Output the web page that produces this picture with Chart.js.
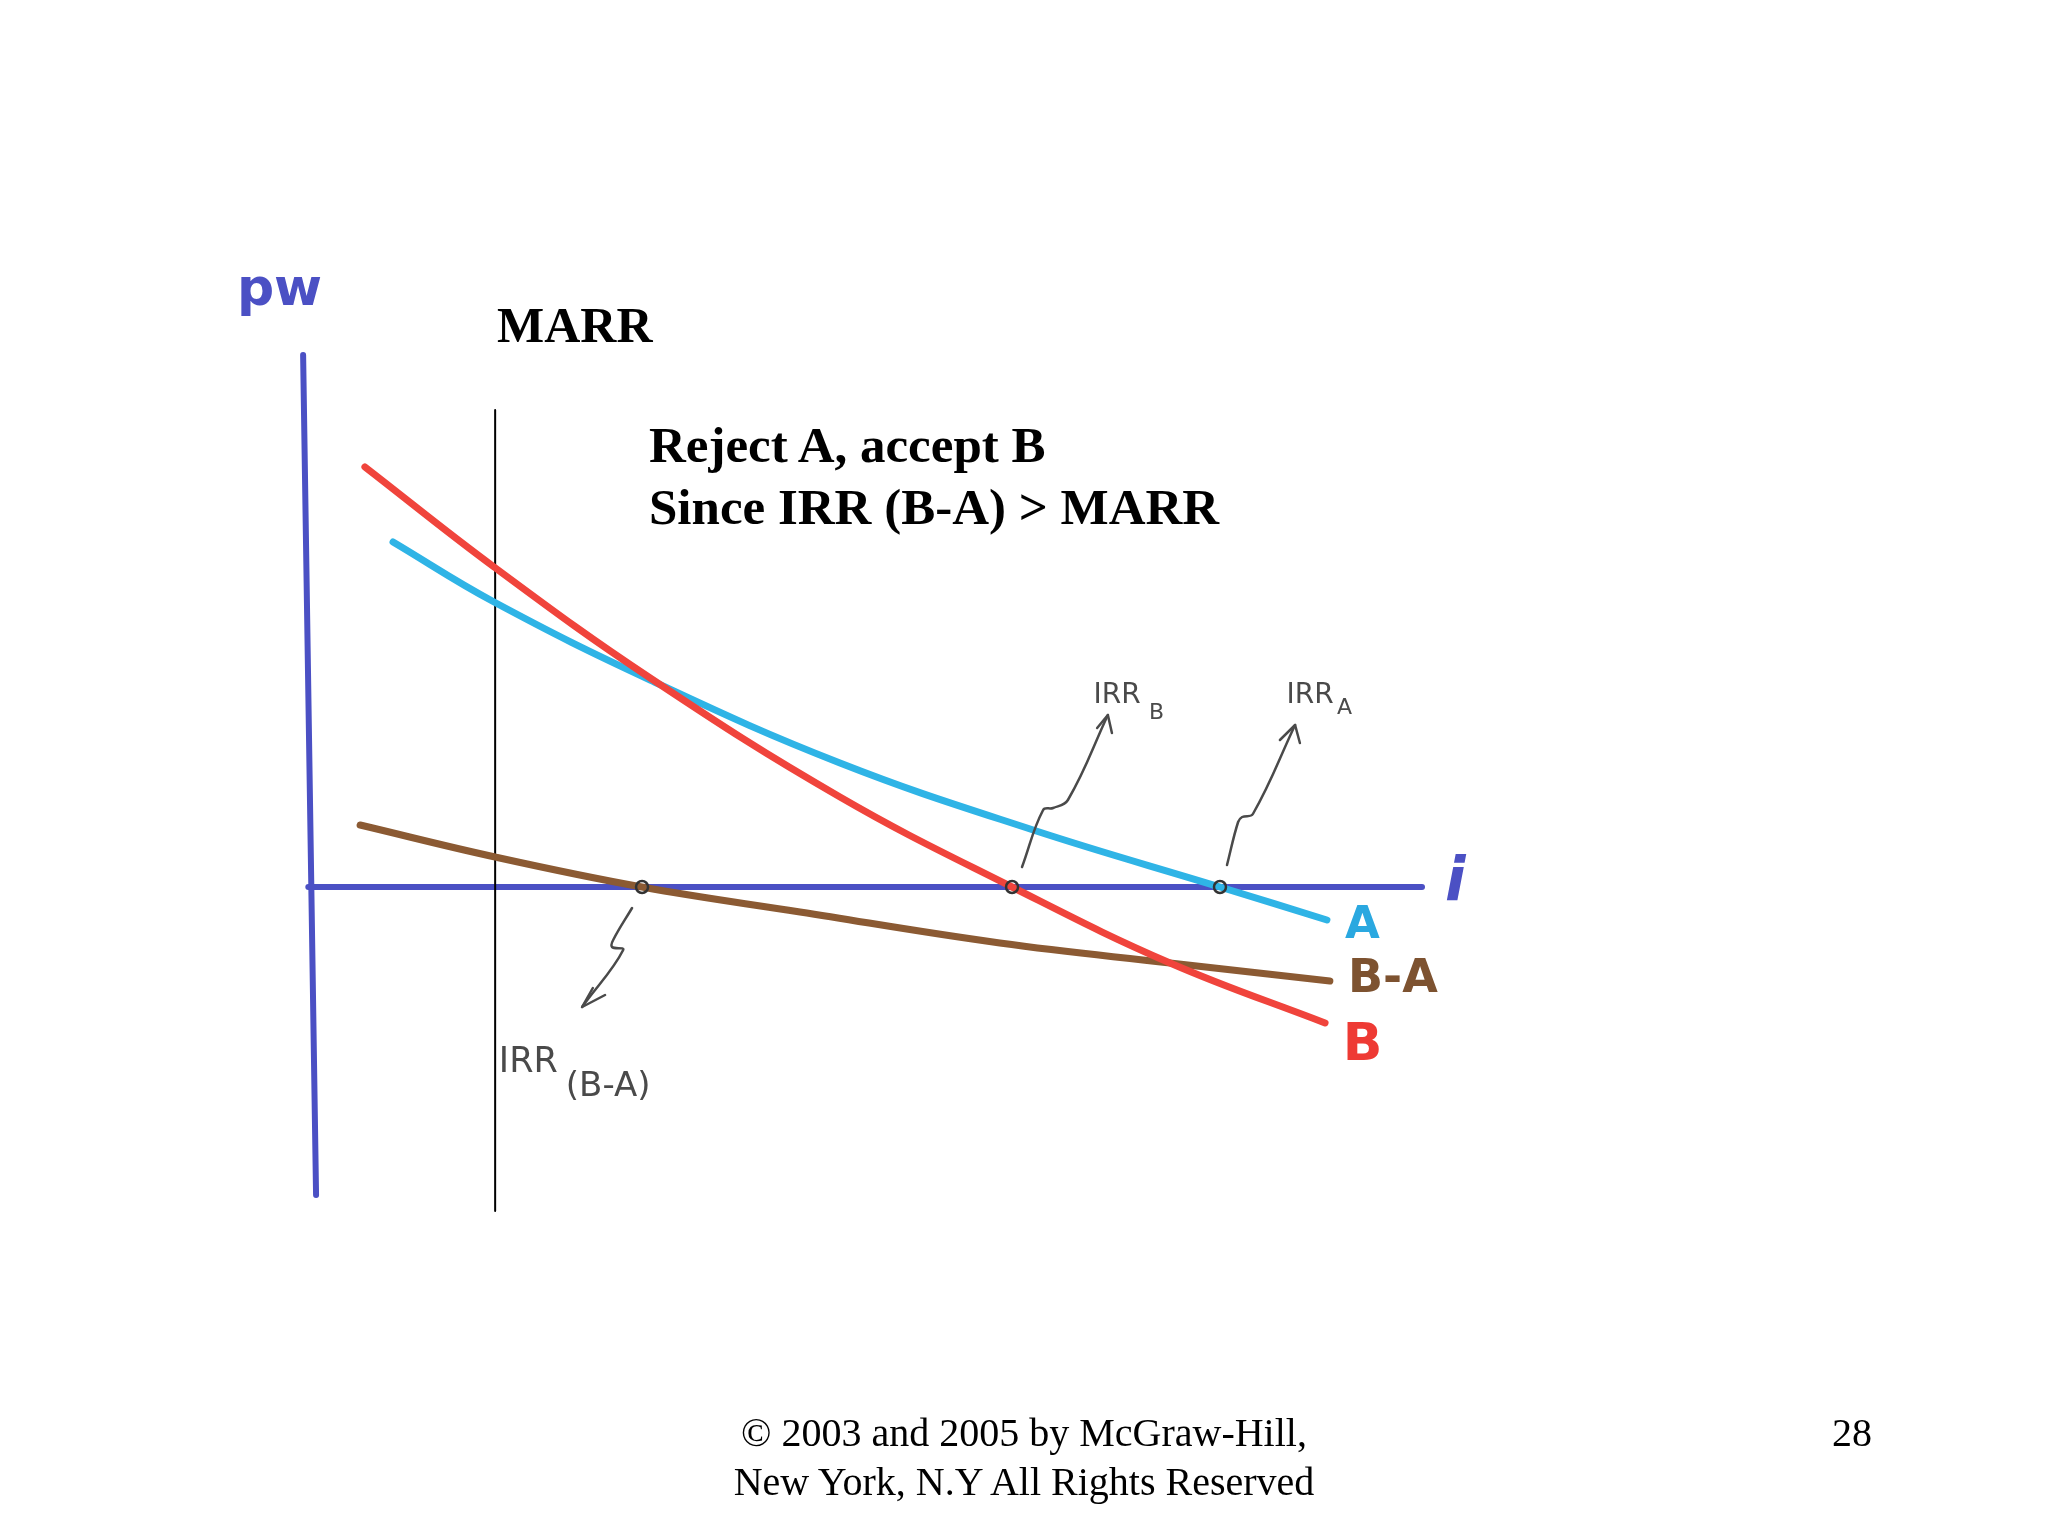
<!DOCTYPE html>
<html>
<head>
<meta charset="utf-8">
<script src="https://cdn.jsdelivr.net/npm/chart.js@4.4.1/dist/chart.umd.min.js"></script>
<style>
    html, body { margin: 0; padding: 0; background: #fff; }
    #wrap { position: relative; width: 2048px; height: 1536px; overflow: hidden; }
    #chart { position: absolute; left: 0; top: 0; }
    .slide { position: absolute; font-family: "Liberation Serif", "Times New Roman", serif; color: #000; white-space: nowrap; }
    .bold { font-weight: bold; }
</style>
</head>
<body>
<div id="wrap">
    <canvas id="chart" width="2048" height="1536"></canvas>
    <div class="slide bold" style="left:497px; top:300px; font-size:50px; line-height:50px;">MARR</div>
    <div class="slide bold" style="left:649px; top:414px; font-size:51px; line-height:62px;">Reject A, accept B<br>Since IRR (B-A) &gt; MARR</div>
    <div class="slide" style="left:0; width:2048px; text-align:center; top:1408px; font-size:40px; line-height:49px;">© 2003 and 2005 by McGraw-Hill,<br>New York, N.Y All Rights Reserved</div>
    <div class="slide" style="right:176px; top:1408px; font-size:40px; line-height:49px;">28</div>
</div>
<script>
// interest rate i (%) and present worth PW
const iB = [1.43, 4.92, 9.14, 14.27, 18.92, 23.19, 27.38];
const pwB = [840, 640, 418, 180, 0, -152, -272];

const iA = [2.19, 4.92, 9.14, 14.27, 19.49, 24.54, 27.43];
const pwA = [690, 570, 414, 248, 114, 0, -66];

const iBA = [1.30, 4.95, 8.92, 13.19, 18.59, 23.19, 27.51];
const pwBA = [124, 60, 0, -50, -112, -152, -188];

const marr = 4.95;
const irrValues = [8.92, 18.92, 24.54]; // IRR(B-A), IRR_B, IRR_A

// hand drawn pointer arrows (shaft, then head)
const arrowBShaftI = [19.19, 19.76, 20.03, 20.43, 21.51];
const arrowBShaftPW = [40, 154, 158, 174, 344];
const arrowBHeadI = [21.22, 21.51, 21.62];
const arrowBHeadPW = [318, 344, 308];

const arrowAShaftI = [24.73, 25.03, 25.14, 25.43, 26.57];
const arrowAShaftPW = [44, 130, 140, 146, 324];
const arrowAHeadI = [26.16, 26.57, 26.70];
const arrowAHeadPW = [294, 324, 288];

const arrowBAShaftI = [8.65, 8.14, 8.11, 8.41, 7.30];
const arrowBAShaftPW = [-42, -106, -120, -126, -240];
const arrowBAHeadI = [7.59, 7.30, 7.92];
const arrowBAHeadPW = [-202, -240, -216];

const pts = (xs, ys) => xs.map((x, k) => ({ x: x, y: ys[k] }));

const axisBlue = '#4b50c4';
const penGray = '#4a4a4a';

const line = (data, color, width, order, tension) => ({
    data: data,
    showLine: true,
    borderColor: color,
    borderWidth: width,
    borderCapStyle: 'round',
    borderJoinStyle: 'round',
    pointRadius: 0,
    tension: tension || 0,
    order: order
});

const labels = [
    { text: 'pw', i: -2.03, pw: 1164, font: 'bold 52px "DejaVu Sans"', color: axisBlue },
    { text: 'i', i: 30.62, pw: -26, font: 'italic bold 60px "DejaVu Sans"', color: axisBlue },
    { text: 'A', i: 27.92, pw: -102, font: 'bold 45px "DejaVu Sans"', color: '#2aa8e0' },
    { text: 'B-A', i: 28.0, pw: -210, font: 'bold 46px "DejaVu Sans"', color: '#7d5230' },
    { text: 'B', i: 27.86, pw: -346, font: 'bold 52px "DejaVu Sans"', color: '#ee3a34' },
    { text: 'IRR', i: 21.12, pw: 368, font: '28px "DejaVu Sans"', color: penGray },
    { text: 'B', i: 22.62, pw: 336, font: '22px "DejaVu Sans"', color: penGray },
    { text: 'IRR', i: 26.34, pw: 368, font: '28px "DejaVu Sans"', color: penGray },
    { text: 'A', i: 27.70, pw: 346, font: '22px "DejaVu Sans"', color: penGray },
    { text: 'IRR', i: 5.05, pw: -370, font: '35px "DejaVu Sans"', color: penGray },
    { text: '(B-A)', i: 6.86, pw: -418, font: '34px "DejaVu Sans"', color: penGray }
];

const sketchLabels = {
    id: 'sketchLabels',
    afterDatasetsDraw(chart) {
        const ctx = chart.ctx;
        const xs = chart.scales.x;
        const ys = chart.scales.y;
        ctx.save();
        ctx.textBaseline = 'alphabetic';
        ctx.textAlign = 'left';
        labels.forEach(l => {
            ctx.font = l.font;
            ctx.fillStyle = l.color;
            ctx.fillText(l.text, xs.getPixelForValue(l.i), ys.getPixelForValue(l.pw));
        });
        ctx.restore();
    }
};

new Chart(document.getElementById('chart'), {
    type: 'scatter',
    data: {
        datasets: [
            line([{ x: -0.1, y: 0 }, { x: 30, y: 0 }], axisBlue, 6, 10),
            line([{ x: -0.24, y: 1064 }, { x: 0.11, y: -616 }], axisBlue, 6, 10),
            line([{ x: marr, y: 954 }, { x: marr, y: -648 }], '#000', 2, 9),
            line(pts(iBA, pwBA), '#8b5a33', 7, 5, 0.4),
            line(pts(iA, pwA), '#2fb4e6', 7, 4, 0.4),
            line(pts(iB, pwB), '#f0443c', 7, 3, 0.4),
            line(pts(arrowBShaftI, arrowBShaftPW), penGray, 2.5, 2, 0.4),
            line(pts(arrowBHeadI, arrowBHeadPW), penGray, 2.5, 2),
            line(pts(arrowAShaftI, arrowAShaftPW), penGray, 2.5, 2, 0.4),
            line(pts(arrowAHeadI, arrowAHeadPW), penGray, 2.5, 2),
            line(pts(arrowBAShaftI, arrowBAShaftPW), penGray, 2.5, 2, 0.4),
            line(pts(arrowBAHeadI, arrowBAHeadPW), penGray, 2.5, 2),
            {
                data: irrValues.map(v => ({ x: v, y: 0 })),
                pointRadius: 6,
                pointBorderWidth: 2.5,
                pointBorderColor: '#333',
                pointBackgroundColor: 'rgba(0,0,0,0)',
                order: 1
            }
        ]
    },
    options: {
        responsive: false,
        animation: false,
        events: [],
        layout: { padding: 0, autoPadding: false },
        plugins: { legend: { display: false }, tooltip: { enabled: false } },
        scales: {
            x: { type: 'linear', display: false, min: -312 / 37, max: (2048 - 312) / 37 },
            y: { type: 'linear', display: false, min: -1298, max: 1774 }
        }
    },
    plugins: [sketchLabels]
});
</script>
</body>
</html>
